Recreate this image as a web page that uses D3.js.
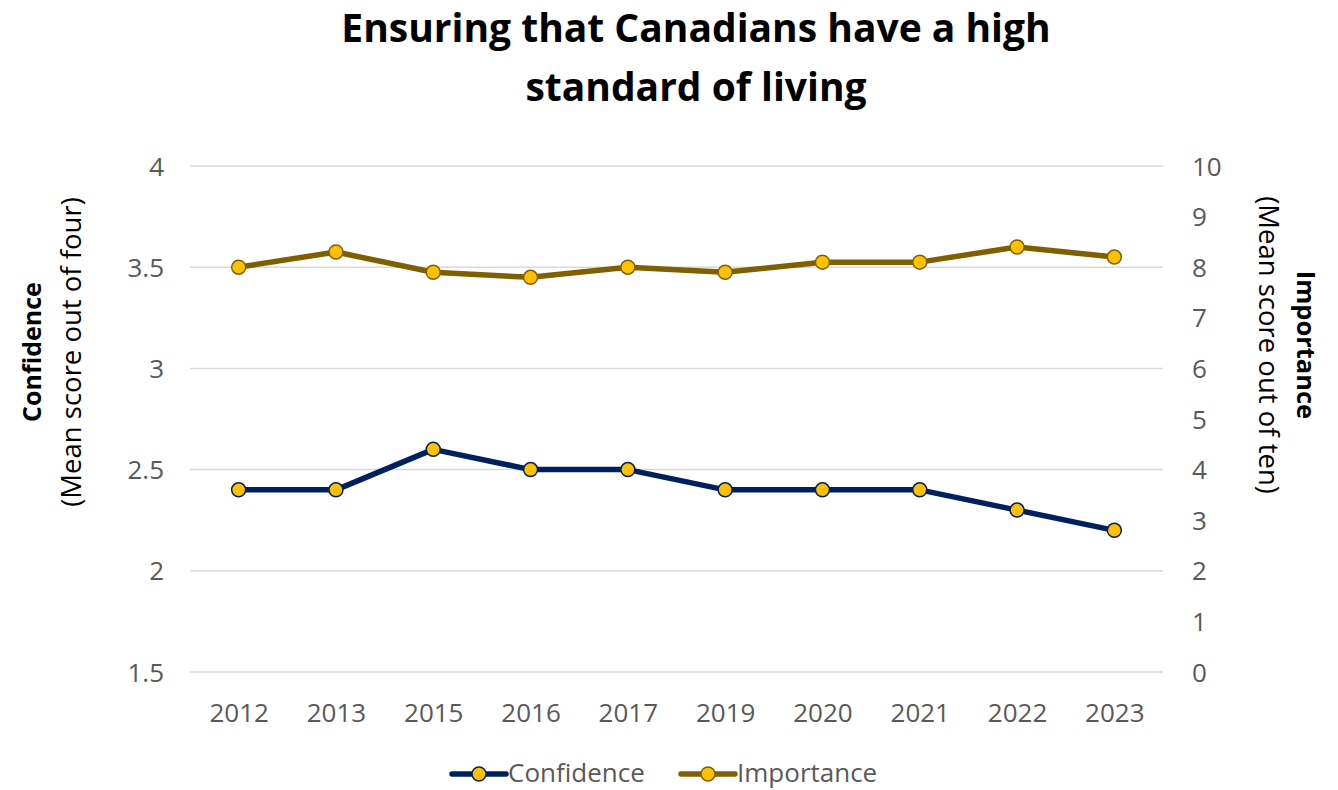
<!DOCTYPE html>
<meta charset="utf-8">
<style>
body { margin: 0; background: #fff; }
text { font-family: "Open Sans", Lato, sans-serif; }
.grid line { stroke: #d9d9d9; stroke-width: 1.5px; }
.tick text { fill: #595959; font-size: 26px; }
</style>
<svg width="1338" height="790"></svg>
<script src="https://cdn.jsdelivr.net/npm/d3@7"></script>
<script>

var years = ["2012", "2013", "2015", "2016", "2017", "2019", "2020", "2021", "2022", "2023"];
var confidence = [2.4, 2.4, 2.6, 2.5, 2.5, 2.4, 2.4, 2.4, 2.3, 2.2];
var importance = [8.0, 8.3, 7.9, 7.8, 8.0, 7.9, 8.1, 8.1, 8.4, 8.2];
var leftTicks = [1.5, 2, 2.5, 3, 3.5, 4];
var rightTicks = [0, 1, 2, 3, 4, 5, 6, 7, 8, 9, 10];

var svg = d3.select("svg");
var plotL = 190, plotR = 1163, plotT = 166, plotB = 672;

var x = d3.scalePoint().domain(years).range([plotL, plotR]).padding(0.5);
var yL = d3.scaleLinear().domain([1.5, 4]).range([plotB, plotT]);
var yR = d3.scaleLinear().domain([0, 10]).range([plotB, plotT]);

// title
svg.append("text")
    .attr("text-anchor", "middle")
    .style("font-size", "39px").style("font-weight", "bold").attr("fill", "#000")
  .selectAll("tspan")
  .data(["Ensuring that Canadians have a high", "standard of living"])
  .enter().append("tspan")
    .attr("x", 696)
    .attr("y", function(d, i) { return 42 + i * 59; })
    .text(function(d) { return d; });

// gridlines
svg.append("g").attr("class", "grid")
  .selectAll("line").data(leftTicks).enter().append("line")
    .attr("x1", plotL).attr("x2", plotR)
    .attr("y1", function(d) { return yL(d); })
    .attr("y2", function(d) { return yL(d); });

// axes
var gl = svg.append("g").attr("transform", "translate(" + (plotL - 26) + ",0)")
    .call(d3.axisLeft(yL).tickValues(leftTicks).tickSize(0).tickPadding(0).tickFormat(d3.format("")));
var gr = svg.append("g").attr("transform", "translate(" + (plotR + 29) + ",0)")
    .call(d3.axisRight(yR).tickValues(rightTicks).tickSize(0).tickPadding(0));
var gx = svg.append("g").attr("transform", "translate(0," + (plotB + 41) + ")")
    .call(d3.axisBottom(x).tickSize(0).tickPadding(0));
[gl, gr, gx].forEach(function(g) {
  g.select(".domain").remove();
  g.selectAll("text").style("font-family", "'Open Sans', Lato, sans-serif").attr("dy", "0.35em");
});

// axis titles
var lt = svg.append("text").attr("transform", "translate(41,352) rotate(-90)")
    .attr("text-anchor", "middle").attr("fill", "#000");
lt.append("tspan").attr("x", 0).attr("y", 0).style("font-size", "25px").style("font-weight", "bold").text("Confidence");
lt.append("tspan").attr("x", 0).attr("y", 40).style("font-size", "27.5px").text("(Mean score out of four)");

var rt = svg.append("text").attr("transform", "translate(1297,345) rotate(90)")
    .attr("text-anchor", "middle").attr("fill", "#000");
rt.append("tspan").attr("x", 0).attr("y", 0).style("font-size", "25.5px").style("font-weight", "bold").text("Importance");
rt.append("tspan").attr("x", 0).attr("y", 38).style("font-size", "27.5px").text("(Mean score out of ten)");

// series
var series = [
  { name: "Confidence", values: confidence, y: yL, color: "#002060" },
  { name: "Importance", values: importance, y: yR, color: "#7F6000" }
];

series.forEach(function(s) {
  var line = d3.line()
      .x(function(d, i) { return x(years[i]); })
      .y(function(d) { return s.y(d); });
  svg.append("path").datum(s.values)
      .attr("d", line)
      .attr("fill", "none")
      .attr("stroke", s.color)
      .attr("stroke-width", 5.5)
      .attr("stroke-linejoin", "round");
  svg.append("g").selectAll("circle").data(s.values).enter().append("circle")
      .attr("cx", function(d, i) { return x(years[i]); })
      .attr("cy", function(d) { return s.y(d); })
      .attr("r", 7)
      .attr("fill", "#FFC000")
      .attr("stroke", s.color)
      .attr("stroke-width", 1.5);
});

// legend
var legX = [452, 681];
series.forEach(function(s, i) {
  var g = svg.append("g").attr("transform", "translate(" + legX[i] + ",774)");
  g.append("line").attr("x1", 0).attr("x2", 54).attr("stroke", s.color)
      .attr("stroke-width", 5.5).attr("stroke-linecap", "round");
  g.append("circle").attr("cx", 27).attr("r", 7).attr("fill", "#FFC000")
      .attr("stroke", s.color).attr("stroke-width", 1.5);
  g.append("text").attr("x", 56).attr("y", 8)
      .attr("fill", "#595959").style("font-size", "26px").text(s.name);
});

</script>
